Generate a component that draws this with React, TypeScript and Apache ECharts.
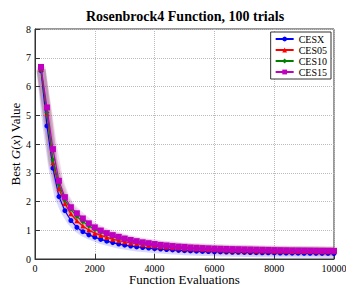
import React, { useEffect, useRef } from "react";
import * as echarts from "echarts";

const evals = [200, 400, 600, 800, 1000, 1200, 1400, 1600, 1800, 2000, 2200, 2400, 2600, 2800, 3000, 3200, 3400, 3600, 3800, 4000, 4200, 4400, 4600, 4800, 5000, 5200, 5400, 5600, 5800, 6000, 6200, 6400, 6600, 6800, 7000, 7200, 7400, 7600, 7800, 8000, 8200, 8400, 8600, 8800, 9000, 9200, 9400, 9600, 9800, 10000];

const cesx = [6.55, 4.63, 3.16, 2.17, 1.68, 1.34, 1.10, 0.95, 0.84, 0.76, 0.68, 0.62, 0.57, 0.52, 0.48, 0.45, 0.42, 0.40, 0.38, 0.36, 0.345, 0.33, 0.315, 0.30, 0.29, 0.28, 0.272, 0.265, 0.258, 0.252, 0.246, 0.241, 0.236, 0.232, 0.228, 0.224, 0.221, 0.218, 0.215, 0.212, 0.21, 0.207, 0.205, 0.203, 0.201, 0.199, 0.197, 0.195, 0.193, 0.19];

const ces05 = [6.6, 5.05, 3.35, 2.45, 1.93, 1.57, 1.33, 1.15, 1.01, 0.90, 0.82, 0.75, 0.69, 0.64, 0.60, 0.56, 0.53, 0.50, 0.47, 0.45, 0.43, 0.41, 0.395, 0.38, 0.365, 0.355, 0.345, 0.335, 0.325, 0.318, 0.311, 0.305, 0.30, 0.295, 0.29, 0.286, 0.282, 0.278, 0.275, 0.272, 0.269, 0.266, 0.264, 0.262, 0.26, 0.258, 0.256, 0.254, 0.252, 0.25];

const ces10 = [6.6, 5.1, 3.45, 2.6, 2.05, 1.73, 1.48, 1.30, 1.15, 1.03, 0.93, 0.85, 0.78, 0.72, 0.67, 0.62, 0.58, 0.55, 0.52, 0.49, 0.465, 0.445, 0.425, 0.41, 0.395, 0.38, 0.37, 0.36, 0.35, 0.34, 0.335, 0.33, 0.325, 0.32, 0.315, 0.31, 0.305, 0.30, 0.297, 0.294, 0.291, 0.288, 0.285, 0.283, 0.281, 0.279, 0.277, 0.275, 0.273, 0.27];

const ces15 = [6.68, 5.27, 3.82, 2.72, 2.15, 1.80, 1.59, 1.41, 1.24, 1.10, 0.99, 0.90, 0.83, 0.77, 0.71, 0.66, 0.62, 0.58, 0.55, 0.52, 0.49, 0.47, 0.45, 0.43, 0.42, 0.40, 0.39, 0.38, 0.37, 0.36, 0.355, 0.35, 0.345, 0.34, 0.335, 0.33, 0.325, 0.32, 0.315, 0.31, 0.307, 0.304, 0.30, 0.298, 0.296, 0.294, 0.292, 0.29, 0.288, 0.285];

const seriesNames = ["CESX", "CES05", "CES10", "CES15"];
const seriesValues = [cesx, ces05, ces10, ces15];
const seriesColors = ["#0000ff", "#ff0000", "#007f00", "#bf00bf"];
const seriesSymbols = ["circle", "triangle", "diamond", "rect"];

const FONT = "'Liberation Serif', serif";

export default function App() {
  const ref = useRef<HTMLDivElement>(null);
  useEffect(() => {
    if (!ref.current) return;
    const chart = echarts.init(ref.current, null, { renderer: "svg" });
    const bands = seriesValues.map((vals, i) => ({
      name: seriesNames[i] + " band",
      type: "line",
      data: evals.map((x, j) => [x, vals[j]]),
      symbol: "none",
      silent: true,
      z: 1,
      lineStyle: { color: seriesColors[i], width: 9, opacity: 0.15 },
    }));
    const lines = seriesValues.map((vals, i) => ({
      name: seriesNames[i],
      type: "line",
      data: evals.map((x, j) => [x, vals[j]]),
      symbol: seriesSymbols[i],
      symbolSize: seriesSymbols[i] === "rect" ? 6 : 5,
      showAllSymbol: true,
      z: 3 + i,
      itemStyle: { color: seriesColors[i] },
      lineStyle: { color: seriesColors[i], width: 1.2 },
    }));
    chart.setOption({
      animation: false,
      title: {
        text: "Rosenbrock4 Function, 100 trials",
        left: 86,
        top: 9,
        padding: 0,
        textStyle: { fontFamily: FONT, fontSize: 14, fontWeight: "bold", color: "#000" },
      },
      legend: {
        data: seriesNames,
        orient: "vertical",
        right: 15,
        top: 32,
        itemWidth: 18,
        itemHeight: 6,
        itemGap: 1,
        padding: [2, 4, 2, 4],
        borderColor: "#333",
        borderWidth: 1,
        backgroundColor: "#fff",
        textStyle: { fontFamily: FONT, fontSize: 10, color: "#000" },
      },
      grid: {
        left: 35,
        right: 12,
        top: 29,
        bottom: 27,
        show: true,
        borderColor: "#333",
        borderWidth: 1,
        backgroundColor: "transparent",
        containLabel: false,
        outerBoundsMode: "none",
      },
      xAxis: {
        type: "value",
        min: 0,
        max: 10000,
        interval: 2000,
        name: "Function Evaluations",
        nameLocation: "middle",
        nameGap: 14,
        nameMoveOverlap: false,
        nameTextStyle: { fontFamily: FONT, fontSize: 13, color: "#000", lineHeight: 13 },
        axisLine: { lineStyle: { color: "#333" } },
        axisTick: { inside: true, lineStyle: { color: "#333" } },
        axisLabel: {
          fontFamily: FONT,
          fontSize: 10,
          color: "#000",
          margin: 4,
          formatter: (v: number) => String(v),
        },
        splitLine: { show: true, lineStyle: { color: "#bbb", type: "dotted" } },
      },
      yAxis: {
        type: "value",
        min: 0,
        max: 8,
        interval: 1,
        name: "Best {i|G}({i|x}) Value",
        nameLocation: "middle",
        nameGap: 13,
        nameMoveOverlap: false,
        nameTextStyle: {
          fontFamily: FONT,
          fontSize: 13,
          color: "#000",
          rich: { i: { fontFamily: FONT, fontSize: 13, fontStyle: "italic", color: "#000" } },
        },
        axisLine: { lineStyle: { color: "#333" } },
        axisTick: { inside: true, lineStyle: { color: "#333" } },
        axisLabel: {
          fontFamily: FONT,
          fontSize: 10,
          color: "#000",
          margin: 4,
          formatter: (v: number) => String(v),
        },
        splitLine: { show: true, lineStyle: { color: "#bbb", type: "dotted" } },
      },
      series: [...bands, ...lines],
    });
    return () => chart.dispose();
  }, []);
  return (
    <div
      ref={ref}
      style={{ position: "absolute", left: 0, top: 0, width: 346, height: 286 }}
    />
  );
}
